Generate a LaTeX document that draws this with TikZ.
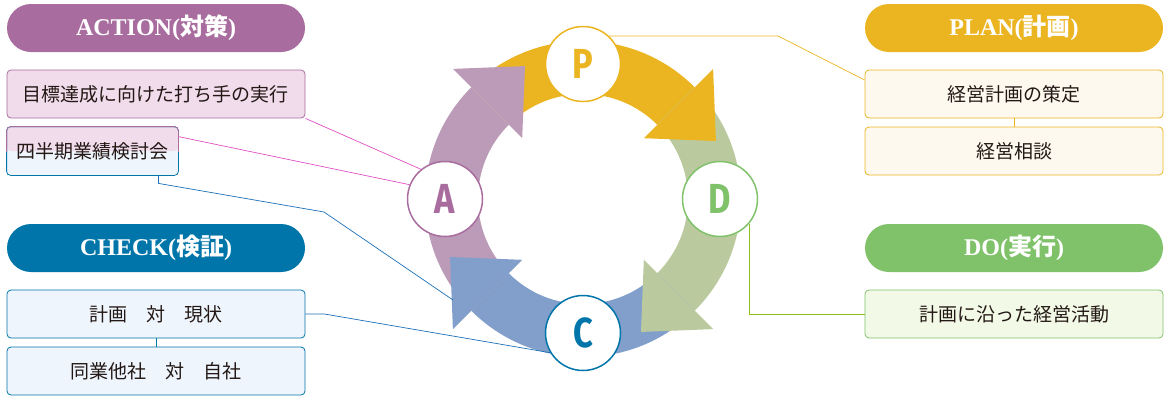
\documentclass[tikz,border=0pt]{standalone}
\usepackage{fontspec}
\setmainfont{Liberation Serif}
\newfontfamily\jpfont{Noto Sans CJK JP}
\newfontfamily\cycfont{Fira Sans}
\usetikzlibrary{calc}

\definecolor{actcol}{HTML}{A86C9E}
\definecolor{actfill}{HTML}{F0DCEB}
\definecolor{actline}{HTML}{E04FC4}
\definecolor{chkcol}{HTML}{0075A9}
\definecolor{chkfill}{HTML}{EEF5FC}
\definecolor{chkline}{HTML}{1A6FB8}
\definecolor{plancol}{HTML}{EBB421}
\definecolor{planfill}{HTML}{FDF9EE}
\definecolor{docol}{HTML}{80C26A}
\definecolor{dofill}{HTML}{F2F9E6}
\definecolor{doline}{HTML}{8CC21F}
\definecolor{textgray}{HTML}{231815}
\definecolor{arrP}{HTML}{EBB421}
\definecolor{arrD}{HTML}{BBCA9E}
\definecolor{arrC}{HTML}{819FCA}
\definecolor{arrA}{HTML}{BC9BB8}

\newcommand{\pilltext}[2]{#1({\jpfont #2})}
\newcommand{\cycletter}[1]{\scalebox{0.82}[1]{#1}}
% ring band between two angles, and the head at the end angle
\newcommand{\cycshaft}[3]{\fill[#1] (#2:105) arc[start angle=#2, end angle=#3, radius=105] -- (#3:158) arc[start angle=#3, end angle=#2, radius=158] -- cycle;}
\newcommand{\cychead}[2]{\fill[#1] (#2:86) -- (#2:184) -- ($(#2:135)+(#2-90:53)$) -- cycle;}

\tikzset{
  pill/.style={rounded corners=24pt, minimum width=298pt, minimum height=48pt, inner sep=0pt,
    text=white, font=\fontsize{24}{24}\selectfont\bfseries},
  item/.style={rounded corners=4pt, draw, line width=0.8pt, minimum width=298pt, minimum height=48pt,
    inner sep=0pt, text=textgray, font=\jpfont\fontsize{19}{19}\selectfont},
  letter/.style={circle, draw, fill=white, line width=1.5pt, minimum size=75pt, inner sep=0pt,
    font=\cycfont\bfseries\fontsize{42}{42}\selectfont},
  link/.style={line width=0.7pt},
}

\begin{document}
\begin{tikzpicture}[x=1pt,y=-1pt]
    \useasboundingbox (0,0) rectangle (1170,400);

    % Action side
    \node[pill, fill=actcol] (actHead) at (156,28) {\pilltext{ACTION}{対策}};
    \node[item, draw=actcol, fill=actfill] (actItem1) at (156,94) {目標達成に向けた打ち手の実行};
    \node[item, draw=none, minimum width=171pt, fill=chkfill,
      path picture={\fill[actfill] (path picture bounding box.north west) rectangle (path picture bounding box.east);}]
      (actItem2) at (92.5,151) {四半期業績検討会};
    \draw[chkcol, rounded corners=4pt, line width=0.8pt] (actItem2.north west) rectangle (actItem2.south east);
    \begin{scope}
        \clip ($(actItem2.north west)+(-2,-2)$) rectangle ($(actItem2.east)+(2,0)$);
        \draw[actcol, rounded corners=4pt, line width=0.8pt] (actItem2.north west) rectangle (actItem2.south east);
    \end{scope}

    % Check side
    \node[pill, fill=chkcol] (chkHead) at (156,248) {\pilltext{CHECK}{検証}};
    \node[item, draw=chkcol, fill=chkfill] (chkItem1) at (156,314) {計画　対　現状};
    \node[item, draw=chkcol, fill=chkfill] (chkItem2) at (156,371) {同業他社　対　自社};

    % Plan side
    \node[pill, fill=plancol] (planHead) at (1014,28) {\pilltext{PLAN}{計画}};
    \node[item, draw=plancol, fill=planfill] (planItem1) at (1014,94) {経営計画の策定};
    \node[item, draw=plancol, fill=planfill] (planItem2) at (1014,151) {経営相談};

    % Do side
    \node[pill, fill=docol] (doHead) at (1014,248) {\pilltext{DO}{実行}};
    \node[item, draw=docol, fill=dofill] (doItem1) at (1014,314) {計画に沿った経営活動};

    % The cycle
    \begin{scope}[shift={(583,199)}, y=1pt]
        \cycshaft{arrP}{135}{45}
        \cycshaft{arrD}{45}{-45}
        \cycshaft{arrC}{-45}{-135}
        \cycshaft{arrA}{-135}{-225}
        \cychead{arrP}{45}
        \cychead{arrD}{-45}
        \cychead{arrC}{-135}
        \cychead{arrA}{135}
        \node[letter, draw=plancol, text=plancol] (P) at (90:135) {\cycletter{P}};
        \node[letter, draw=docol, text=docol] (D) at (0:137) {\cycletter{D}};
        \node[letter, draw=chkcol, text=chkcol] (C) at (-90:134) {\cycletter{C}};
        \node[letter, draw=actcol, text=actcol] (A) at (180:138) {\cycletter{A}};
    \end{scope}

    % Connectors
    \coordinate (cBend) at (324,212);
    \coordinate (cEnd) at (453,300);
    \draw[link, chkcol] (chkItem1) -- (chkItem2);
    \draw[link, plancol] (planItem1) -- (planItem2);
    \draw[link, plancol] (P.47) -- ++(169,0) -- ($(planItem1.west)+(0,-14)$);
    \draw[link, doline] (D.-40) -- (D.-40 |- doItem1.west) -- (doItem1.west);
    \draw[link, actline] (actItem1.south east) -- (A.129);
    \draw[link, actline] ($(actItem2.north east)+(0,10)$) -- (A.158);
    \draw[link, chkline] ($(actItem2.south east)+(-20,0)$) -- ++(0,8) -- (cBend) -- (cEnd);
    \draw[link, chkline] (chkItem1.east) -- ++(19,0) -- (C.211);
\end{tikzpicture}
\end{document}
